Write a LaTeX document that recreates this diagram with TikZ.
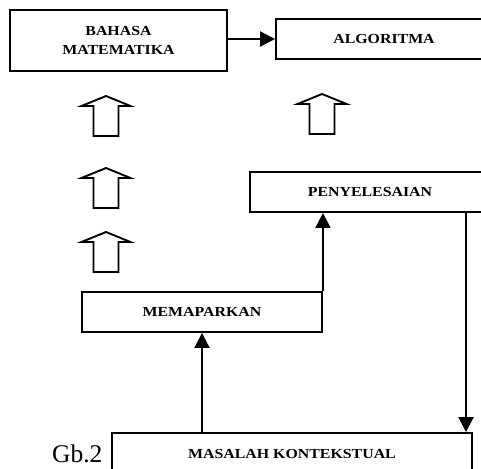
\documentclass[tikz,border=0pt]{standalone}
\usepackage{fontspec}
\setmainfont{Liberation Serif}
\newfontfamily\boxfont[FakeStretch=1.15]{Liberation Serif}
\usetikzlibrary{arrows.meta}
\tikzset{
  boxnode/.style={draw, line width=1.9pt, inner sep=0pt, align=center,
    font=\boxfont\bfseries\fontsize{13.8}{19}\selectfont},
  conn/.style={line width=2pt, -{Triangle[length=15pt,width=15pt]}},
  hollow/.pic={\draw[line width=1.9pt] (0,0) -- (24.5,10) -- (12.5,10) -- (12.5,40) -- (-12.5,40) -- (-12.5,10) -- (-24.5,10) -- cycle;}
}
\begin{document}
\begin{tikzpicture}[x=1pt,y=-1pt]
\useasboundingbox (0,0) rectangle (481,468);
\clip (0,0) rectangle (481,468);
\node[boxnode, minimum width=217pt, minimum height=61pt] (bahasa) at (118.5,40.5) {BAHASA\\MATEMATIKA};
\node[boxnode, minimum width=216pt, minimum height=40pt] (alg) at (384,39) {ALGORITMA};
\node[boxnode, minimum width=240pt, minimum height=40pt] (pen) at (370,192) {PENYELESAIAN};
\node[boxnode, minimum width=240pt, minimum height=40pt] (mem) at (202,312) {MEMAPARKAN};
\node[boxnode, minimum width=360pt, minimum height=42pt] (mas) at (292,454) {MASALAH KONTEKSTUAL};
\node[anchor=base west, inner sep=0pt, font=\fontsize{25.5}{28}\selectfont] (gb) at (52,462) {Gb.2};
\coordinate (r) at (466,0);
\draw[conn] (bahasa.east |- alg) -- (alg.west);
\draw[conn] (mem.north east) -- (mem.north east |- pen.south);
\draw[conn] (mem.south |- mas.north) -- (mem.south);
\draw[conn] (r |- pen.south) -- (r |- mas.north);
\pic at (106,96) {hollow};
\pic at (106,168) {hollow};
\pic at (106,232) {hollow};
\pic at (322,94) {hollow};
\end{tikzpicture}
\end{document}
